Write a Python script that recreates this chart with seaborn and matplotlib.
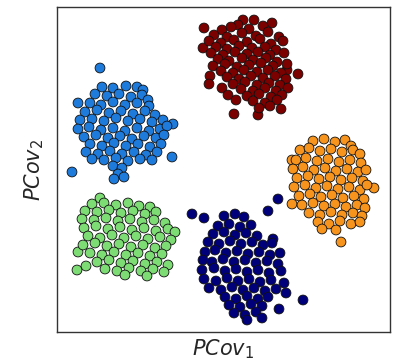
import matplotlib
matplotlib.use("Agg")
import matplotlib.pyplot as plt
import pandas as pd
import seaborn as sns

# points (x to the right, y downwards)
red_pts = [(204,28),(203,48),(234,114),(258,115),(298,74),(287,70),(272,23),(254,20),(243,20),(238,25),
           (222,30),(231,27),(249,29),(263,26),
           (214,35),(227,37),(242,33),(256,36),(268,32),(279,37),
           (209,41),(221,43),(234,40),(247,42),(260,39),(271,44),(283,41),
           (216,47),(227,49),(239,46),(252,48),(265,47),(276,50),
           (211,53),(223,55),(235,52),(247,54),(258,52),(270,55),(284,53),
           (218,59),(229,61),(242,58),(253,60),(266,58),(277,62),
           (213,66),(225,64),(237,67),(249,65),(261,63),(273,66),(287,64),
           (221,71),(233,73),(244,70),(257,72),(268,70),(281,73),
           (227,77),(239,79),(251,76),(263,78),(275,76),(286,79),
           (233,84),(245,82),(257,85),(269,83),(280,85),
           (241,89),(253,91),(265,88),(276,91),(288,88),
           (247,96),(259,94),(271,97),(282,95),
           (253,101),(265,103),(277,100),
           (259,108),(270,106),(281,109),
           (210,76),(209,84),(222,88),(228,95),(236,100)]

blue_pts = [(100,68),(78,103),(72,172),(173,124),(172,157),
            (102,87),(113,88),(126,86),(137,87),(143,90),
            (95,94),(107,96),(119,94),(131,97),(142,95),(148,100),
            (90,103),(101,105),(113,102),(125,105),(137,103),(149,106),
            (85,112),(97,110),(109,113),(121,111),(133,114),(145,111),(155,115),
            (80,120),(92,119),(104,121),(116,118),(128,121),(140,119),(152,122),(163,120),
            (78,129),(89,127),(101,130),(113,128),(125,131),(137,128),(149,131),(160,129),(167,126),
            (84,137),(96,135),(108,138),(120,136),(132,139),(144,136),(156,138),(164,135),
            (90,144),(102,146),(114,143),(126,146),(138,144),(150,147),(161,144),
            (86,152),(98,154),(110,151),(122,154),(134,152),(146,155),(157,152),
            (92,159),(104,160),(116,158),(128,161),(140,159),(152,160),
            (113,166),(122,168),(118,174),(124,177),(114,179)]

orange_pts = [(341,242),(374,188),(292,160),(292,204),
              (313,141),(324,139),(335,142),(345,140),(351,146),
              (300,150),(309,148),(320,151),(331,149),(342,152),(353,150),(360,154),
              (296,160),(306,158),(317,161),(328,159),(339,162),(350,160),(361,163),
              (293,169),(303,167),(314,170),(325,168),(336,171),(347,169),(358,172),(366,170),
              (297,178),(308,176),(319,179),(330,177),(341,180),(352,178),(363,181),
              (294,187),(305,185),(316,188),(327,186),(338,189),(349,187),(360,190),(367,185),
              (299,196),(310,194),(321,197),(332,195),(343,198),(354,196),(364,199),
              (302,205),(313,203),(324,206),(335,204),(346,207),(357,205),(365,208),
              (309,213),(320,215),(331,212),(342,215),(353,213),(362,216),
              (318,222),(329,224),(340,221),(351,224),(360,222),
              (322,229),(336,230)]

green_pts = [(100,198),(77,270),(78,252),
             (92,204),(104,203),(116,205),(128,203),(139,206),(150,207),
             (85,211),(97,212),(109,210),(121,213),(133,211),(145,214),(156,212),
             (82,219),(94,220),(106,218),(118,221),(130,219),(142,222),(154,220),(165,223),
             (84,228),(96,226),(108,229),(120,227),(132,230),(144,228),(156,231),(168,229),(175,232),
             (88,236),(100,238),(112,235),(124,238),(136,236),(148,239),(160,237),(171,240),
             (83,245),(95,243),(107,246),(119,244),(131,247),(143,245),(155,248),(166,246),
             (90,253),(102,255),(114,252),(126,255),(138,253),(150,256),(162,254),
             (97,262),(109,260),(121,263),(133,261),(145,264),(157,262),(168,265),
             (105,269),(117,271),(129,268),(141,271),(153,269),(164,272),
             (86,266),(125,275),(147,276)]

navy_pts = [(192,214),(204,218),(278,199),(268,211),(303,300),(279,309),(286,293),
            (224,216),(235,214),(244,217),
            (218,226),(229,224),(240,227),(251,225),
            (213,234),(224,232),(235,235),(246,233),(257,236),(273,239),
            (208,242),(219,244),(230,241),(241,244),(252,242),(263,245),(272,243),
            (205,252),(215,250),(226,253),(237,251),(248,254),(259,252),(270,255),(280,253),
            (203,260),(212,262),(223,259),(234,262),(245,260),(256,263),(267,261),(278,264),
            (202,270),(214,268),(225,271),(236,269),(247,272),(258,270),(269,273),(281,271),
            (204,279),(216,281),(227,278),(238,281),(249,279),(260,282),(271,280),(284,283),
            (209,288),(221,290),(232,287),(243,290),(254,288),(265,291),(276,289),
            (225,297),(236,299),(247,296),(258,299),(268,297),
            (229,305),(240,307),(251,304),(262,306),
            (234,313),(245,315),(256,312),(247,320),(262,318)]

clusters = ["red", "blue", "orange", "green", "navy"]
colors = ["#7b0000", "#1e7bdc", "#f7941d", "#7ddc74", "#00007a"]

rows = []
for name, pts in zip(clusters, [red_pts, blue_pts, orange_pts, green_pts, navy_pts]):
    for x, y in pts:
        rows.append({"x": x, "y": y, "cluster": name})
df = pd.DataFrame(rows)

sns.set_style("white")
fig = plt.figure(figsize=(3.99, 3.63), dpi=100)
ax = fig.add_axes([57/399, 31/363, 333/399, 325/363])

sns.scatterplot(data=df, x="x", y="y", hue="cluster", palette=dict(zip(clusters, colors)),
                s=50, edgecolor="#111111", linewidth=0.6, legend=False, ax=ax)

ax.set_xlim(57, 390)
ax.set_ylim(332, 7)
ax.set_xticks([])
ax.set_yticks([])
for sp in ax.spines.values():
    sp.set_color("#333333")
    sp.set_linewidth(1.0)
ax.set_xlabel("$PCov_1$", fontsize=15, labelpad=4)
ax.set_ylabel("$PCov_2$", fontsize=15, labelpad=8)

fig.savefig("out.png", dpi=100)
